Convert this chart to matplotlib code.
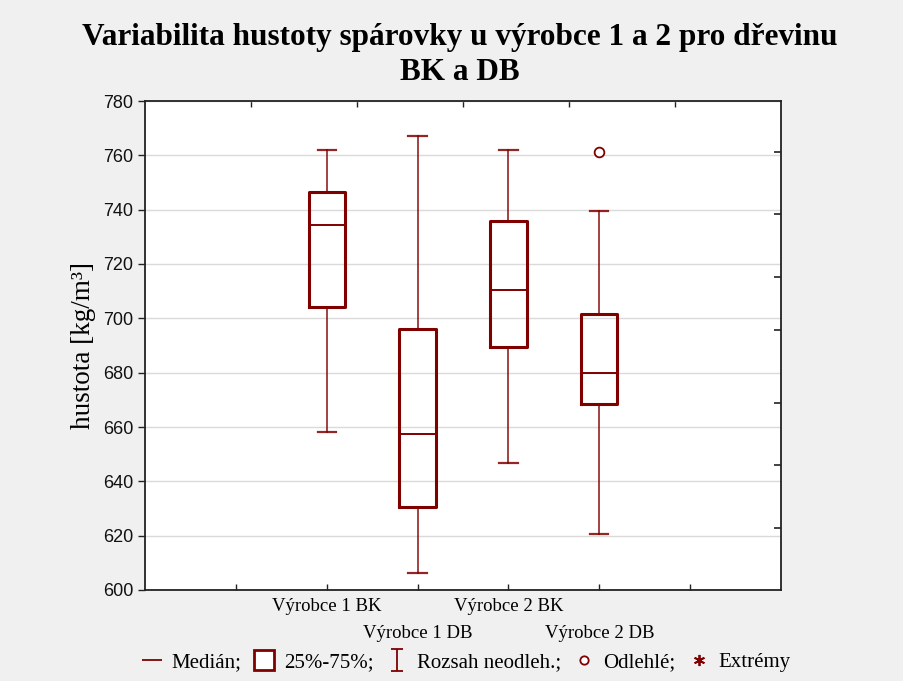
import matplotlib
matplotlib.use("Agg")
import matplotlib.pyplot as plt
from matplotlib.lines import Line2D
from matplotlib.path import Path

# Box-plot statistics of board density per producer and wood species
categories = ["Výrobce 1 BK", "Výrobce 1 DB", "Výrobce 2 BK", "Výrobce 2 DB"]
medians = [734.5, 657.5, 710.3, 679.8]
q1 = [704.3, 630.6, 689.5, 668.6]
q3 = [746.4, 696.2, 736.0, 701.5]
whisker_low = [658.3, 606.4, 646.7, 620.5]
whisker_high = [761.9, 767.2, 762.0, 739.5]
outliers = [[], [], [], [761.1]]

positions = [2, 3, 4, 5]
y_ticks = list(range(600, 781, 20))
right_ticks = [761.3, 738.4, 715.2, 695.7, 668.9, 646.0, 622.9]

RED = "#800000"
BG = "#F0F0F0"

fig = plt.figure(figsize=(9.04, 6.81), dpi=100, facecolor=BG)
ax = fig.add_axes([145 / 904, 1 - 590 / 681, 636 / 904, 489 / 681])
ax.set_facecolor("white")

stats = []
for i, name in enumerate(categories):
    stats.append(dict(label=name, med=medians[i], q1=q1[i], q3=q3[i],
                      whislo=whisker_low[i], whishi=whisker_high[i],
                      fliers=outliers[i]))

ax.bxp(stats, positions=positions, widths=0.4, showfliers=True,
       boxprops=dict(color=RED, linewidth=2.2),
       medianprops=dict(color=RED, linewidth=1.4),
       whiskerprops=dict(color=RED, linewidth=1.3, alpha=0.8),
       capprops=dict(color=RED, linewidth=1.6, alpha=0.85),
       capwidths=0.2,
       flierprops=dict(marker="o", markerfacecolor="white",
                       markeredgecolor=RED, markersize=7, markeredgewidth=1.3),
       zorder=3)

ax.set_xlim(0, 7)
ax.set_ylim(600, 780)
ax.set_yticks(y_ticks)
ax.set_yticklabels([str(v) for v in y_ticks], fontsize=13,
                   family="Liberation Sans", color="#111111")
ax.yaxis.grid(True, color="#DADADA", linewidth=1.0, zorder=0)
ax.set_axisbelow(True)
ax.tick_params(axis="y", direction="out", length=5, width=1, color="#222222")

# x ticks at 1..6, labels only under the boxes, staggered in two rows
ax.set_xticks(range(1, 7))
xt_labels = [""] + categories + [""]
ax.set_xticklabels(xt_labels, fontsize=13.5, family="Liberation Serif")
ax.tick_params(axis="x", direction="in", length=4, width=1, color="#222222")
for i, tick in enumerate(ax.xaxis.get_major_ticks()):
    if i in (2, 4):
        tick.set_pad(25)
    else:
        tick.set_pad(6)

for s in ax.spines.values():
    s.set_color("#222222")
    s.set_linewidth(1.3)

# Top and right tick marks
ax_top = ax.secondary_xaxis("top")
ax_top.set_xticks([7 * k / 6 for k in range(1, 6)])
ax_top.tick_params(direction="in", length=4, width=1, color="#222222", labeltop=False)
ax_top.set_xticklabels([])
ax_top.spines["top"].set_visible(False)

ax_r = ax.secondary_yaxis("right")
ax_r.set_yticks(right_ticks)
ax_r.set_yticklabels([])
ax_r.tick_params(direction="in", length=5, width=1.2, color="#222222")
ax_r.spines["right"].set_visible(False)

ax.set_ylabel("hustota [kg/m³]", fontsize=19.5, family="Liberation Serif",
              labelpad=5)

fig.text(460 / 904, 1 - 55 / 681,
         "Variabilita hustoty spárovky u výrobce 1 a 2 pro dřevinu\nBK a DB",
         ha="center", va="center", fontsize=22.5, fontweight="bold",
         family="Liberation Serif", linespacing=1.25)

# Legend
ibeam = Path([(-0.5, 1), (0.5, 1), (0, 1), (0, -1), (-0.5, -1), (0.5, -1)],
             [Path.MOVETO, Path.LINETO, Path.MOVETO, Path.LINETO,
              Path.MOVETO, Path.LINETO])
handles = [
    Line2D([], [], color=RED, linestyle="none", marker="_", markersize=14,
           markeredgewidth=1.3),
    Line2D([], [], color=RED, linestyle="none", marker="s", markersize=14,
           markerfacecolor="white", markeredgewidth=2),
    Line2D([], [], color=RED, linestyle="none", marker=ibeam, markersize=16,
           markeredgewidth=1.3),
    Line2D([], [], color=RED, linestyle="none", marker="o", markersize=6,
           markerfacecolor="white", markeredgewidth=1.3),
    Line2D([], [], color=RED, linestyle="none", marker=(6, 2, 0), markersize=8,
           markeredgewidth=1.3),
]
labels = ["Medián;", "25%-75%;", "Rozsah neodleh.;", "Odlehlé;", "Extrémy"]
fig.legend(handles, labels, loc="center", bbox_to_anchor=(466 / 904, 1 - 662 / 681),
           ncol=5, frameon=False, handlelength=1.0, handletextpad=0.45,
           columnspacing=0.6, prop=dict(family="Liberation Serif", size=15))

fig.savefig("out.png", dpi=100, facecolor=BG)
